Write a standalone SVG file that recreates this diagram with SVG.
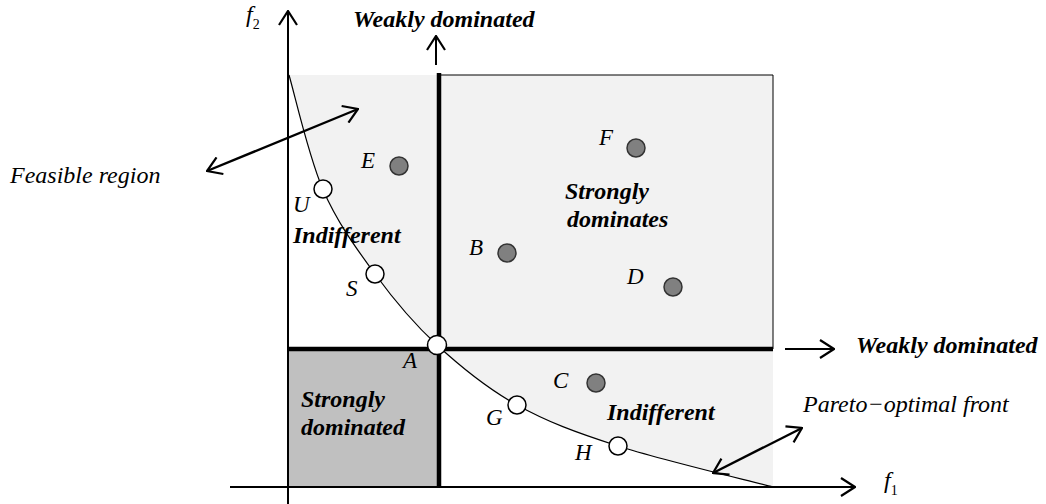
<svg xmlns="http://www.w3.org/2000/svg" width="1046" height="504" viewBox="0 0 1046 504" font-family="'Liberation Serif', 'Times New Roman', Tinos, serif">
<defs>
<marker id="ah" viewBox="0 0 16 20" refX="15" refY="10" markerWidth="16" markerHeight="20" markerUnits="userSpaceOnUse" orient="auto-start-reverse">
<path d="M1,1 L15,10 L1,19" fill="none" stroke="#000" stroke-width="2.2"/>
</marker>
<style>
.lbl{font-style:italic;font-size:24px}
.pt{font-style:italic;font-size:23px}
.bi{font-style:italic;font-weight:bold;font-size:24px}
.sub{font-size:14px;font-style:normal}
.ax{stroke:#000;stroke-width:2;fill:none}
.arr{stroke:#000;stroke-width:2.4;fill:none}
.thick{stroke:#000;stroke-width:4.5;fill:none}
.dom{fill:#808080;stroke:#333;stroke-width:1.5}
.opt{fill:#fff;stroke:#000;stroke-width:1.5}
</style>
</defs>
<rect width="1046" height="504" fill="#fff"/>
<g id="regions">
<path d="M289,75 C294.6,94 308.4,155.8 322.7,189 C337,222.2 356,248 375,274 C394,300 413.3,323.2 437,345 C460.7,366.8 486.8,388.2 517,405 C547.2,421.8 575.3,432.3 618,446 C660.7,459.7 747.2,480.2 773,487 L773,75 Z" fill="#f2f2f2"/>
<rect x="288" y="349" width="151" height="138" fill="#c0c0c0"/>
<path d="M439,75 L773,75 L773,349" fill="none" stroke="#000" stroke-width="1"/>
</g>
<g id="connectors">
<line class="ax" x1="288" y1="504" x2="288" y2="11" marker-end="url(#ah)"/>
<line class="ax" x1="230" y1="487" x2="855" y2="487" marker-end="url(#ah)"/>
<path id="front" d="M289,75 C294.6,94 308.4,155.8 322.7,189 C337,222.2 356,248 375,274 C394,300 413.3,323.2 437,345 C460.7,366.8 486.8,388.2 517,405 C547.2,421.8 575.3,432.3 618,446 C660.7,459.7 747.2,480.2 773,487" fill="none" stroke="#000" stroke-width="1.2"/>
<line class="thick" x1="439" y1="73" x2="439" y2="486"/>
<line class="thick" x1="288" y1="349" x2="773" y2="349"/>
<line class="ax" x1="436" y1="65" x2="436" y2="36" marker-end="url(#ah)"/>
<line class="ax" x1="785" y1="349" x2="834" y2="349" marker-end="url(#ah)"/>
<line class="arr" x1="207" y1="171" x2="358" y2="109" marker-start="url(#ah)" marker-end="url(#ah)"/>
<line class="arr" x1="713" y1="473" x2="802" y2="428" marker-start="url(#ah)" marker-end="url(#ah)"/>
</g>
<g id="axis-labels">
<text class="lbl" x="246" y="22">f<tspan class="sub" dy="7">2</tspan></text>
<text class="lbl" x="884" y="488">f<tspan class="sub" dy="7">1</tspan></text>
</g>
<g id="region-labels">
<text class="bi" x="353" y="27">Weakly dominated</text>
<text class="bi" x="856" y="353">Weakly dominated</text>
<text class="bi" x="293" y="243">Indifferent</text>
<text class="bi" x="607" y="420">Indifferent</text>
<text class="bi" x="565" y="199">Strongly</text>
<text class="bi" x="567" y="227">dominates</text>
<text class="bi" x="301" y="407">Strongly</text>
<text class="bi" x="301" y="435">dominated</text>
<text class="lbl" x="10" y="183">Feasible region</text>
<text class="lbl" x="803" y="412">Pareto−optimal front</text>
</g>
<g id="node-E"><circle class="dom" cx="399" cy="166" r="9"/><text class="pt" x="361" y="168">E</text></g>
<g id="node-F"><circle class="dom" cx="636" cy="148" r="9"/><text class="pt" x="599" y="145">F</text></g>
<g id="node-B"><circle class="dom" cx="507" cy="253" r="9"/><text class="pt" x="469" y="255">B</text></g>
<g id="node-D"><circle class="dom" cx="673" cy="287" r="9"/><text class="pt" x="627" y="284">D</text></g>
<g id="node-C"><circle class="dom" cx="596" cy="383" r="9"/><text class="pt" x="553" y="388">C</text></g>
<g id="node-U"><circle class="opt" cx="323" cy="189" r="9"/><text class="pt" x="293" y="212">U</text></g>
<g id="node-S"><circle class="opt" cx="375" cy="274" r="9"/><text class="pt" x="346" y="296">S</text></g>
<g id="node-A"><circle class="opt" cx="437" cy="345" r="9.5"/><text class="pt" x="403" y="368">A</text></g>
<g id="node-G"><circle class="opt" cx="517" cy="405" r="9"/><text class="pt" x="486" y="425">G</text></g>
<g id="node-H"><circle class="opt" cx="618" cy="446" r="9"/><text class="pt" x="575" y="460">H</text></g>
</svg>
